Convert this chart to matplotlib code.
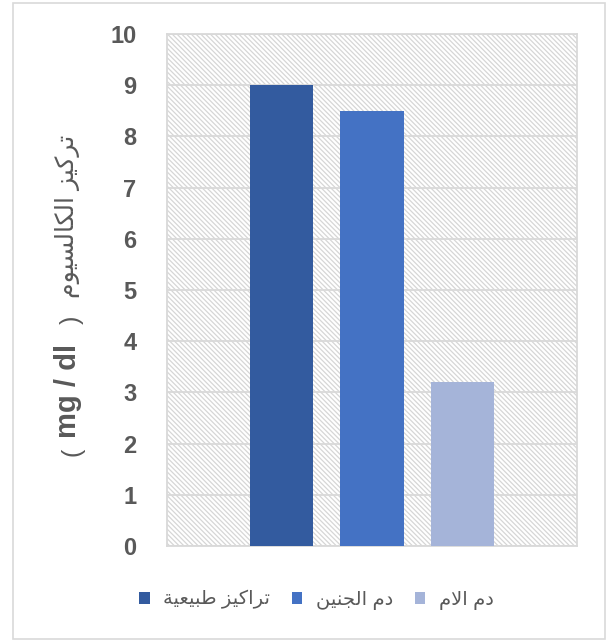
import matplotlib
matplotlib.use("Agg")
import matplotlib.pyplot as plt
from matplotlib.patches import Rectangle

# data
series = ["تراكيز طبيعية", "دم الجنين", "دم الام"]
values = [9, 8.5, 3.2]
colors = ["#335b9f", "#4472c4", "#a5b4d9"]
yticks = list(range(0, 11))
ylabel_unit = "mg / dl"
ylabel_ar = "تركيز الكالسيوم"

# matplotlib does no arabic shaping, so pick presentation forms by hand
FORMS = {
    'ا': ('\uFE8D', '\uFE8E', None, None),
    'ب': ('\uFE8F', '\uFE90', '\uFE91', '\uFE92'),
    'ة': ('\uFE93', '\uFE94', None, None),
    'ت': ('\uFE95', '\uFE96', '\uFE97', '\uFE98'),
    'ج': ('\uFE9D', '\uFE9E', '\uFE9F', '\uFEA0'),
    'د': ('\uFEA9', '\uFEAA', None, None),
    'ر': ('\uFEAD', '\uFEAE', None, None),
    'ز': ('\uFEAF', '\uFEB0', None, None),
    'س': ('\uFEB1', '\uFEB2', '\uFEB3', '\uFEB4'),
    'ط': ('\uFEC1', '\uFEC2', '\uFEC3', '\uFEC4'),
    'ع': ('\uFEC9', '\uFECA', '\uFECB', '\uFECC'),
    'ك': ('\uFED9', '\uFEDA', '\uFEDB', '\uFEDC'),
    'ل': ('\uFEDD', '\uFEDE', '\uFEDF', '\uFEE0'),
    'م': ('\uFEE1', '\uFEE2', '\uFEE3', '\uFEE4'),
    'ن': ('\uFEE5', '\uFEE6', '\uFEE7', '\uFEE8'),
    'و': ('\uFEED', '\uFEEE', None, None),
    'ي': ('\uFEF1', '\uFEF2', '\uFEF3', '\uFEF4'),
    'لا': ('\uFEFB', '\uFEFC', None, None),
}


def shape(s):
    toks = []
    i = 0
    while i < len(s):
        if s[i:i + 2] == 'لا':
            toks.append('لا')
            i += 2
        else:
            toks.append(s[i])
            i += 1
    out = []
    n = len(toks)
    for i, t in enumerate(toks):
        if t not in FORMS:
            out.append(t)
            continue
        prev = i > 0 and toks[i - 1] in FORMS and FORMS[toks[i - 1]][2] is not None
        nxt = i < n - 1 and toks[i + 1] in FORMS and FORMS[t][2] is not None
        f = FORMS[t]
        if prev and nxt:
            out.append(f[3])
        elif prev:
            out.append(f[1])
        elif nxt:
            out.append(f[2])
        else:
            out.append(f[0])
    return "".join(out)[::-1]


plt.rcParams['font.family'] = ['Liberation Sans', 'DejaVu Sans']
plt.rcParams['hatch.linewidth'] = 0.9

fig = plt.figure(figsize=(6.08, 6.42), dpi=100)
ax = fig.add_axes([167 / 608, 1 - 546 / 642, 410 / 608, 512 / 642])

# hatched plot area
bg = Rectangle((0, 0), 1, 1, transform=ax.transAxes, facecolor="white",
               edgecolor="#d6d6d6", hatch="\\" * 7, linewidth=0, zorder=0)
ax.add_patch(bg)

x = list(range(len(values)))
for i in x:
    ax.bar(i, values[i], width=0.7, color=colors[i], label=shape(series[i]), zorder=3)

ax.set_xlim(-1.27, 3.27)
ax.set_ylim(0, 10)
ax.set_yticks(yticks)
ax.set_yticklabels([str(t) for t in yticks], fontsize=17, fontweight="bold", color="#595959")
ax.set_xticks([])
ax.tick_params(axis="y", length=0, pad=22)
ax.yaxis.grid(True, color="#d9d9d9", linewidth=1.3, zorder=1)
ax.set_axisbelow(True)
for sp in ax.spines.values():
    sp.set_color("#d9d9d9")
    sp.set_linewidth(1.3)

# y label: unit in bold with thin brackets, arabic in regular
lab_x = 68 / 608
par_x = 72 / 608
fig.text(par_x, 1 - 452 / 642, "(", rotation=90, ha="center", va="center",
         fontsize=18, color="#595959")
fig.text(lab_x, 1 - 391 / 642, ylabel_unit, rotation=90, ha="center", va="center",
         fontsize=21, fontweight="bold", color="#595959")
fig.text(par_x, 1 - 320 / 642, ")", rotation=90, ha="center", va="center",
         fontsize=18, color="#595959")
fig.text(lab_x, 1 - 216 / 642, shape(ylabel_ar), rotation=90, ha="center", va="center",
         fontsize=18, color="#595959")

fig.legend(loc="center left", bbox_to_anchor=(139 / 608, 1 - 600 / 642), ncol=3, frameon=False,
           fontsize=14, handlelength=0.55, handleheight=0.55, handletextpad=0.7,
           columnspacing=1.1, labelcolor="#595959", borderaxespad=0, borderpad=0)

# chart border
fig.patches.append(Rectangle((13 / 608, 3 / 642), 592 / 608, 636 / 642, transform=fig.transFigure,
                             fill=False, edgecolor="#d9d9d9", linewidth=1.2))

fig.savefig("out.png", dpi=100)
